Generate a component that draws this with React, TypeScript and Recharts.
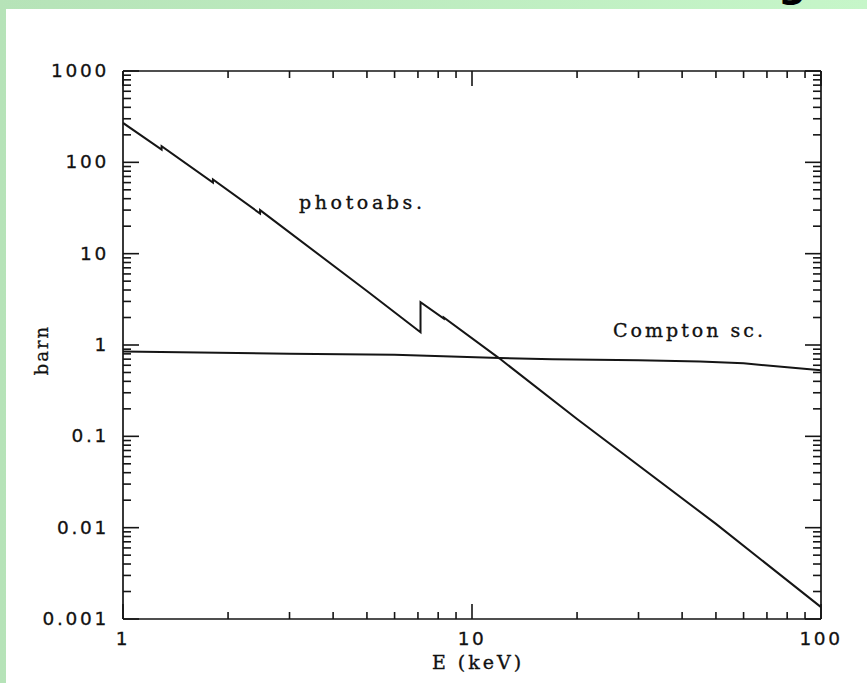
import { LineChart, Line, XAxis, YAxis } from "recharts"

// photoabsorption cross section (barn) vs photon energy (keV), edges drawn as vertical steps
const photoAbs = [
  { e: 1, v: 270 },
  { e: 1.29, v: 138 },
  { e: 1.29, v: 150 },
  { e: 1.81, v: 60 },
  { e: 1.81, v: 65 },
  { e: 2.47, v: 27.5 },
  { e: 2.47, v: 30 },
  { e: 5, v: 3.9 },
  { e: 7.12, v: 1.38 },
  { e: 7.12, v: 2.95 },
  { e: 8.3, v: 1.95 },
  { e: 8.3, v: 2.0 },
  { e: 12, v: 0.71 },
  { e: 20, v: 0.155 },
  { e: 50, v: 0.011 },
  { e: 100, v: 0.00135 },
]

const compton = [
  { e: 1, v: 0.85 },
  { e: 3, v: 0.8 },
  { e: 6, v: 0.78 },
  { e: 12, v: 0.72 },
  { e: 17, v: 0.7 },
  { e: 30, v: 0.68 },
  { e: 45, v: 0.66 },
  { e: 60, v: 0.63 },
  { e: 80, v: 0.57 },
  { e: 100, v: 0.53 },
]

const xDecades = [1, 10, 100]
const xTickLabels = ["1", "10", "100"]
const yDecades = [0.001, 0.01, 0.1, 1, 10, 100, 1000]
const yTickLabels = ["0.001", "0.01", "0.1", "1", "10", "100", "1000"]
const minorSteps = [2, 3, 4, 5, 6, 7, 8, 9]

function withMinors(decades: number[]) {
  const out: number[] = []
  decades.forEach((d, i) => {
    out.push(d)
    if (i < decades.length - 1) minorSteps.forEach((m) => out.push(d * m))
  })
  return out
}

const xTicks = withMinors(xDecades)
const yTicks = withMinors(yDecades)

const INK = "#151515"
const numFont = "'DejaVu Sans', sans-serif"
const serifFont = "'DejaVu Serif', serif"

function labelFor(v: number, decades: number[], labels: string[]) {
  const i = decades.findIndex((d) => Math.abs(Math.log10(d) - Math.log10(v)) < 1e-6)
  return i >= 0 ? labels[i] : null
}

function makeTick(side: "bottom" | "top" | "left" | "right") {
  return (props: any) => {
    const { x, y, payload } = props
    const v = payload.value
    const lg = Math.log10(v)
    const major = Math.abs(lg - Math.round(lg)) < 1e-6
    if (side === "bottom" || side === "top") {
      const len = major ? 15 : 7
      const dir = side === "bottom" ? -1 : 1
      const label = side === "bottom" ? labelFor(v, xDecades, xTickLabels) : null
      return (
        <g>
          <line x1={x} x2={x} y1={y} y2={y + dir * len} stroke={INK} strokeWidth={1.6} />
          {label && (
            <text
              x={x}
              y={y + 26}
              textAnchor="middle"
              fontFamily={numFont}
              fontSize={18.5}
              letterSpacing={2.5}
              fill="#111"
              stroke="#111"
              strokeWidth={0.3}
            >
              {label}
            </text>
          )}
        </g>
      )
    }
    const len = major ? 16 : 8
    const dir = side === "left" ? 1 : -1
    const label = side === "left" ? labelFor(v, yDecades, yTickLabels) : null
    return (
      <g>
        <line x1={x} x2={x + dir * len} y1={y} y2={y} stroke={INK} strokeWidth={1.6} />
        {label && (
          <text
            x={x - 14}
            y={y + 6}
            textAnchor="end"
            fontFamily={numFont}
            fontSize={18.5}
            letterSpacing={2.7}
            fill="#111"
            stroke="#111"
            strokeWidth={0.3}
          >
            {label}
          </text>
        )}
      </g>
    )
  }
}

export default function App() {
  return (
    <div
      style={{
        position: "absolute",
        left: 0,
        top: 0,
        width: 867,
        height: 683,
        overflow: "hidden",
        background: "linear-gradient(90deg, #b6e3b8, #c6f6c9)",
      }}
    >
      <div style={{ position: "absolute", left: 6, top: 9, right: 0, bottom: 0, background: "#fff" }} />
      <div
        style={{
          position: "absolute",
          left: 778,
          top: -38,
          fontFamily: numFont,
          fontSize: 40,
          fontWeight: "bold",
          color: "#000",
          lineHeight: "40px",
        }}
      >
        g
      </div>
      <div style={{ position: "absolute", left: 0, top: 0 }}>
        <LineChart width={867} height={683} data={photoAbs} margin={{ top: 51, right: 26, bottom: 34, left: 63 }}>
          <XAxis
            xAxisId="b"
            dataKey="e"
            type="number"
            scale="log"
            domain={[1, 100]}
            allowDataOverflow
            ticks={xTicks}
            interval={0}
            tickSize={0}
            tickMargin={0}
            tickLine={false}
            height={30}
            axisLine={{ stroke: INK, strokeWidth: 1.7 }}
            tick={makeTick("bottom")}
          />
          <XAxis
            xAxisId="t"
            orientation="top"
            dataKey="e"
            type="number"
            scale="log"
            domain={[1, 100]}
            allowDataOverflow
            ticks={xTicks}
            interval={0}
            tickSize={0}
            tickMargin={0}
            tickLine={false}
            height={20}
            axisLine={{ stroke: INK, strokeWidth: 1.7 }}
            tick={makeTick("top")}
          />
          <YAxis
            yAxisId="l"
            dataKey="v"
            type="number"
            scale="log"
            domain={[0.001, 1000]}
            allowDataOverflow
            ticks={yTicks}
            interval={0}
            tickSize={0}
            tickMargin={0}
            tickLine={false}
            width={60}
            axisLine={{ stroke: INK, strokeWidth: 1.7 }}
            tick={makeTick("left")}
          />
          <YAxis
            yAxisId="r"
            orientation="right"
            dataKey="v"
            type="number"
            scale="log"
            domain={[0.001, 1000]}
            allowDataOverflow
            ticks={yTicks}
            interval={0}
            tickSize={0}
            tickMargin={0}
            tickLine={false}
            width={20}
            axisLine={{ stroke: INK, strokeWidth: 1.7 }}
            tick={makeTick("right")}
          />
          <Line
            xAxisId="b"
            yAxisId="l"
            data={photoAbs}
            dataKey="v"
            type="linear"
            stroke={INK}
            strokeWidth={2}
            dot={false}
            isAnimationActive={false}
          />
          <Line
            xAxisId="b"
            yAxisId="l"
            data={compton}
            dataKey="v"
            type="linear"
            stroke={INK}
            strokeWidth={2}
            dot={false}
            isAnimationActive={false}
          />
        </LineChart>
      </div>
      <svg width={867} height={683} style={{ position: "absolute", left: 0, top: 0, pointerEvents: "none" }}>
        <text x={299} y={209} fontFamily={serifFont} fontSize={19} letterSpacing={3.6} fill="#111" stroke="#111" strokeWidth={0.35}>
          photoabs.
        </text>
        <text
          x={613}
          y={337}
          fontFamily={serifFont}
          fontSize={19}
          letterSpacing={3}
          fill="#111"
          stroke="#111"
          strokeWidth={0.35}
          style={{ whiteSpace: "pre" }}
        >
          Compton sc.
        </text>
        <text
          x={478}
          y={669}
          textAnchor="middle"
          fontFamily={serifFont}
          fontSize={19}
          letterSpacing={3}
          fill="#111"
          stroke="#111"
          strokeWidth={0.35}
        >
          E (keV)
        </text>
        <text
          x={48}
          y={350}
          textAnchor="middle"
          transform="rotate(-90 48 350)"
          fontFamily={serifFont}
          fontSize={18}
          letterSpacing={2}
          fill="#111"
          stroke="#111"
          strokeWidth={0.3}
        >
          barn
        </text>
      </svg>
    </div>
  )
}
